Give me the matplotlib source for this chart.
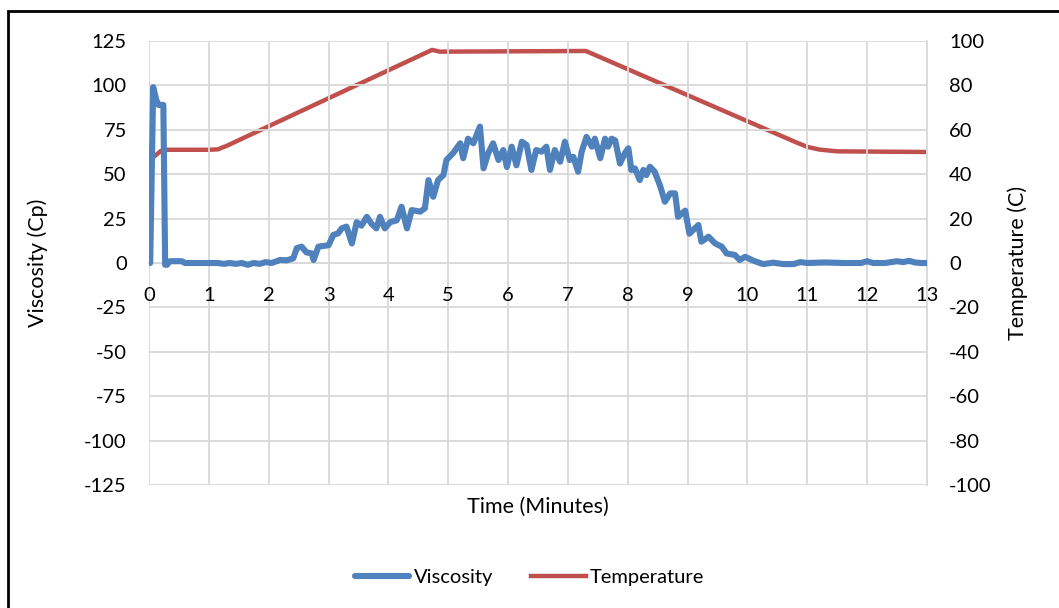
import numpy as np
import matplotlib.pyplot as plt
from matplotlib.patches import Rectangle

plt.rcParams['font.family'] = ['Lato', 'DejaVu Sans']
plt.rcParams['axes.unicode_minus'] = False

# Viscosity readings (time in minutes, viscosity in Cp)
t_visc = [0.00, 0.02, 0.07, 0.12, 0.16, 0.24, 0.27, 0.30, 0.35, 0.55, 0.60, 1.00,
          1.15, 1.25, 1.35, 1.45, 1.55, 1.65, 1.75, 1.85, 1.95, 2.05, 2.19, 2.30,
          2.41, 2.47, 2.55, 2.63, 2.72, 2.75, 2.83, 3.00, 3.08, 3.16, 3.22, 3.30,
          3.39, 3.47, 3.55, 3.64, 3.72, 3.80, 3.86, 3.94, 4.03, 4.14, 4.22, 4.31,
          4.39, 4.53, 4.61, 4.67, 4.75, 4.83, 4.92, 4.97, 5.08, 5.20, 5.25, 5.33,
          5.42, 5.53, 5.59, 5.67, 5.75, 5.84, 5.92, 5.98, 6.06, 6.14, 6.23, 6.31,
          6.39, 6.47, 6.56, 6.64, 6.70, 6.78, 6.87, 6.95, 7.03, 7.09, 7.17, 7.23,
          7.31, 7.40, 7.45, 7.54, 7.62, 7.67, 7.73, 7.79, 7.87, 7.95, 8.01, 8.06,
          8.12, 8.20, 8.26, 8.31, 8.37, 8.45, 8.54, 8.62, 8.71, 8.79, 8.84, 8.96,
          9.03, 9.18, 9.23, 9.35, 9.46, 9.57, 9.65, 9.79, 9.87, 9.96, 10.10, 10.26,
          10.43, 10.60, 10.77, 10.88, 11.00, 11.30, 11.60, 11.90, 12.00, 12.10,
          12.30, 12.50, 12.60, 12.70, 12.80, 12.90, 13.00]
viscosity = [0, 0, 99, 92, 89, 89, -1, -1, 1, 1, 0, 0,
             0, -0.5, 0, -0.5, 0, -1, 0, -0.5, 0.5, 0, 1.7, 1.5,
             2.6, 8.4, 9.2, 6, 5.4, 1.7, 9.2, 10, 15.8, 16.7, 19.5, 20.5,
             11, 23, 21, 26, 22, 19.5, 26, 19.5, 23, 24, 31.7, 19.5,
             29.8, 28.9, 30.8, 46.7, 37.3, 46.7, 49.5, 58, 61.8, 67.4, 59, 70,
             67.4, 76.8, 53.3, 62, 67.4, 58, 63.6, 54, 65.5, 55, 68.3, 66.4,
             52.4, 63.6, 62.7, 65.5, 52.4, 63.6, 57, 68.3, 58, 59.8, 51.4, 62.7,
             71, 65.5, 70, 59, 70, 65.5, 70, 69, 56, 61.8, 64.6, 52.4,
             53.3, 46.7, 52.4, 49.5, 54.2, 51.4, 43.5, 34.5, 39.2, 39.2, 26, 29.5,
             16.5, 21.4, 12, 14.8, 11, 9.2, 5.4, 4.5, 1.7, 3.5, 1.3, -0.6,
             0.2, -0.6, -0.6, 0.5, 0, 0.3, 0, 0, 1, 0,
             0, 1, 0.5, 1.2, 0.3, 0, 0]

# Temperature readings (time in minutes, temperature in C)
t_temp = [0.00, 0.07, 0.20, 0.30, 1.00, 1.15, 1.30, 4.73, 4.86, 7.30,
          10.80, 11.00, 11.20, 11.50, 13.00]
temperature = [49.5, 47.6, 50.5, 51, 51, 51.2, 52.8, 96, 95.2, 95.5,
               54.5, 52.3, 51.1, 50.3, 50]

x_ticks = np.arange(0, 14, 1)
visc_ticks = np.arange(-125, 126, 25)
temp_ticks = np.arange(-100, 101, 20)

blue = '#4F81BD'
red = '#C0504D'
grid_c = '#D9D9D9'

fig = plt.figure(figsize=(10.59, 6.08), dpi=100)
ax = fig.add_axes([149/1059, 1-485/608, (927-149)/1059, (485-41)/608])
ax2 = ax.twinx()

l1, = ax.plot(t_visc, viscosity, color=blue, lw=4.4, solid_joinstyle='round',
              solid_capstyle='round', zorder=3)
l2, = ax2.plot(t_temp, temperature, color=red, lw=3.2, solid_joinstyle='round')

ax.set_xlim(0, 13)
ax.set_ylim(-125, 125)
ax2.set_ylim(-100, 100)
ax.set_xticks(x_ticks)
ax.set_yticks(visc_ticks)
ax2.set_yticks(temp_ticks)
ax.grid(True, color=grid_c, lw=1.3)
ax.set_axisbelow(True)

for a in (ax, ax2):
    for s in ['top', 'left', 'right', 'bottom']:
        a.spines[s].set_visible(False)
ax.spines['right'].set_visible(True)
ax.spines['right'].set_color(grid_c)
ax.spines['right'].set_linewidth(1.3)
ax.spines['bottom'].set_visible(True)
ax.spines['bottom'].set_position(('data', 0))
ax.spines['bottom'].set_color(grid_c)
ax.spines['bottom'].set_linewidth(1.3)

ax.tick_params(axis='x', length=0, pad=17, labelsize=14.5, labelcolor='black')
ax.tick_params(axis='y', length=0, pad=16, labelsize=14.5, labelcolor='black')
ax2.tick_params(axis='y', length=0, pad=16, labelsize=14.5, labelcolor='black')
ax.set_zorder(ax2.get_zorder() + 1)
ax.patch.set_visible(False)

fig.text(38/1059, 1-263/608, 'Viscosity (Cp)', rotation=90, ha='center', va='center', fontsize=15.5)
fig.text(1018/1059, 1-263/608, 'Temperature (C)', rotation=90, ha='center', va='center', fontsize=15.5)
fig.text(538/1059, 1-507/608, 'Time (Minutes)', ha='center', va='center', fontsize=15.5)

fig.legend([l1, l2], ['Viscosity', 'Temperature'], loc='center', bbox_to_anchor=(0.5, 1-577/608),
           ncol=2, frameon=False, fontsize=14.5, handlelength=2.7, columnspacing=1.9, handletextpad=0.2)

fig.patches.append(Rectangle((8/1059, -0.1), 1.2, 1.1-11/608, transform=fig.transFigure,
                             fill=False, edgecolor='black', lw=2))

fig.savefig('out.png', dpi=100)
